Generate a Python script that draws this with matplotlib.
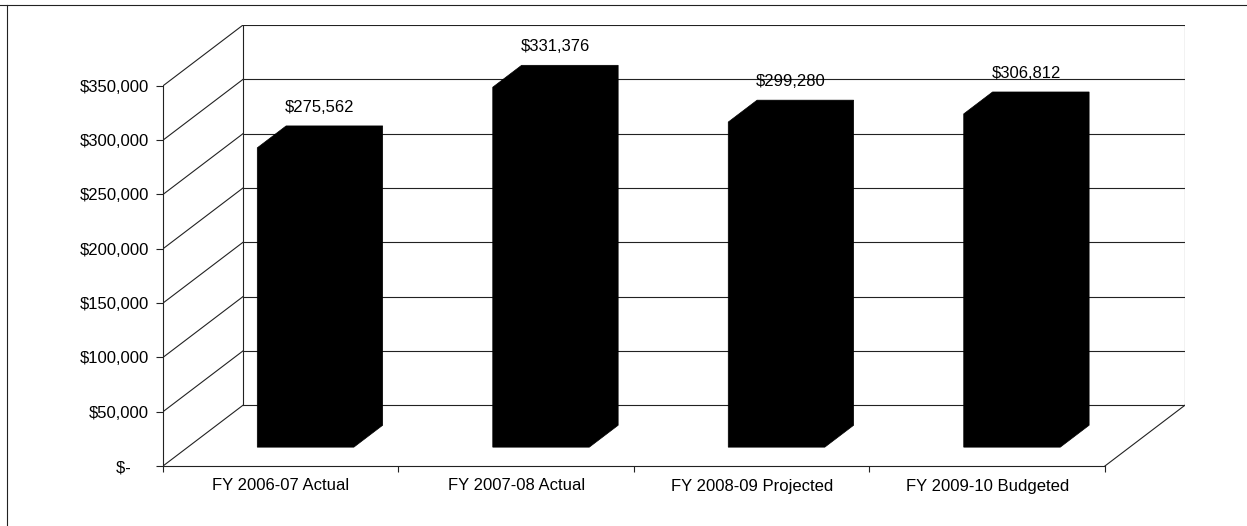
import matplotlib.pyplot as plt
from matplotlib.patches import Polygon
from matplotlib.lines import Line2D

categories = ["FY 2006-07 Actual", "FY 2007-08 Actual", "FY 2008-09 Projected", "FY 2009-10 Budgeted"]
values = [275562, 331376, 299280, 306812]
value_labels = ["$275,562", "$331,376", "$299,280", "$306,812"]
yticks = [0, 50000, 100000, 150000, 200000, 250000, 300000, 350000]
ytick_labels = ["$-    ", "$50,000", "$100,000", "$150,000", "$200,000",
                "$250,000", "$300,000", "$350,000"]

plt.rcParams['font.family'] = ['Liberation Sans', 'DejaVu Sans']

# oblique "3D" look: depth of the floor expressed in data units
DX, DY = 0.34, 56000
ymax = 350000
d0, d1 = 0.31, 0.67      # front / back of the bars along the depth
bar_w = 0.41
n = len(categories)
lc = '#222222'
lw = 0.8
fs = 12


def proj(x, y, d):
    return x + d * DX, y + d * DY


fig = plt.figure(figsize=(12.47, 5.26), dpi=100)
ax = fig.add_axes([163 / 1247, 60 / 526, 1022 / 1247, 441 / 526])
ax.set_xlim(0, n + DX)
ax.set_ylim(0, ymax + DY)

# walls and floor
for v in yticks[1:]:
    ax.plot([0, DX], [v, v + DY], color=lc, lw=lw, zorder=1)
    ax.plot([DX, n + DX], [v + DY, v + DY], color=lc, lw=lw, zorder=1)
ax.plot([DX, n + DX], [DY, DY], color=lc, lw=lw, zorder=1)
ax.plot([0, DX], [0, DY], color=lc, lw=lw, zorder=1)
ax.plot([n, n + DX], [0, DY], color=lc, lw=lw, zorder=1)
ax.plot([DX, DX], [DY, ymax + DY], color=lc, lw=lw, zorder=1)
ax.plot([n + DX, n + DX], [DY, ymax + DY], color=lc, lw=lw, zorder=1)

# bars
for i, v in enumerate(values):
    xc = i + 0.5
    x0, x1 = xc - bar_w / 2, xc + bar_w / 2
    pts = [proj(x0, 0, d0), proj(x0, v, d0), proj(x0, v, d1),
           proj(x1, v, d1), proj(x1, 0, d1), proj(x1, 0, d0)]
    ax.add_patch(Polygon(pts, closed=True, fc='black', ec='black', lw=0.5, zorder=3))
    ax.annotate(value_labels[i], proj(xc, v, (d0 + d1) / 2), xytext=(0, 16),
                textcoords='offset points', ha='center', va='bottom', fontsize=fs,
                zorder=4)

# axes
for s in ['top', 'right']:
    ax.spines[s].set_visible(False)
ax.spines['left'].set_bounds(0, ymax)
ax.spines['bottom'].set_bounds(0, n)
for s in ['left', 'bottom']:
    ax.spines[s].set_linewidth(lw)
    ax.spines[s].set_color(lc)
ax.set_yticks(yticks, ytick_labels)
ax.tick_params(axis='y', length=5, width=lw, pad=5, labelsize=fs, color=lc)
ax.set_xticks([i + 0.5 for i in range(n)], categories)
ax.set_xticks(range(n + 1), minor=True)
ax.tick_params(axis='x', which='major', length=0, pad=9, labelsize=fs)
ax.tick_params(axis='x', which='minor', length=4, width=lw, color=lc)

# outer frame (top and left edges of the scanned box)
fig.add_artist(Line2D([0, 1], [1 - 5 / 526] * 2, transform=fig.transFigure, color=lc, lw=lw))
fig.add_artist(Line2D([7 / 1247] * 2, [0, 1 - 5 / 526], transform=fig.transFigure, color=lc, lw=lw))

fig.savefig('out.png', dpi=100)
